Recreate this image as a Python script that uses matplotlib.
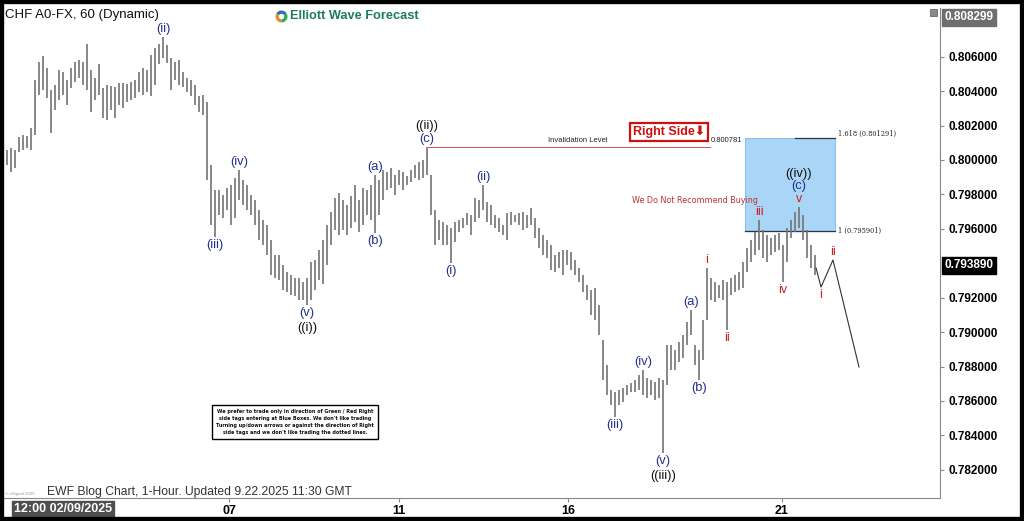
import matplotlib
matplotlib.use("Agg")
import matplotlib.pyplot as plt
from matplotlib.patches import Rectangle
import numpy as np

plt.rcParams['font.family'] = ['Liberation Sans', 'DejaVu Sans']

# hourly-ish bars, prices in 1e-5 units
highs = [80087, 80058, 80070, 80058, 80134, 80145, 80139, 80186, 80465, 80569,
         80604, 80535, 80407, 80436, 80523, 80511, 80465, 80535, 80569, 80581,
         80569, 80674, 80523, 80476, 80558, 80418, 80436, 80430, 80424, 80447,
         80447, 80442, 80453, 80465, 80511, 80535, 80523, 80610, 80651, 80674,
         80715, 80668, 80593, 80569, 80581, 80511, 80476, 80465, 80436, 80372,
         80378, 80337, 79971, 79826, 79826, 79797, 79837, 79855, 79895, 79942,
         79884, 79855, 79797, 79768, 79709, 79651, 79622, 79535, 79448, 79448,
         79390, 79349, 79332, 79314, 79314, 79291, 79314, 79407, 79419, 79477,
         79535, 79622, 79698, 79779, 79808, 79768, 79739, 79791, 79855, 79768,
         79837, 79826, 79855, 79913, 79884, 79942, 79930, 79954, 79913, 79942,
         79930, 79907, 79942, 79971, 79988, 80000, 80076, 79913, 79709, 79651,
         79640, 79622, 79605, 79640, 79651, 79663, 79692, 79680, 79779, 79768,
         79855, 79756, 79739, 79680, 79663, 79622, 79692, 79698, 79680, 79692,
         79698, 79680, 79721, 79663, 79605, 79564, 79535, 79506, 79448, 79465,
         79477, 79477, 79465, 79419, 79373, 79332, 79274, 79245, 79256, 79158,
         78954, 78809, 78664, 78652, 78664, 78675, 78693, 78704, 78722, 78751,
         78780, 78733, 78722, 78710, 78733, 78722, 78925, 78925, 78896, 78943,
         78983, 79059, 79128, 78925, 78896, 79070, 79373, 79314, 79291, 79274,
         79303, 79291, 79314, 79332, 79349, 79407, 79489, 79535, 79582, 79651,
         79593, 79564, 79547, 79564, 79576, 79506, 79605, 79651, 79698, 79727,
         79680, 79593, 79506, 79448]
lows = [80000, 79971, 79930, 79954, 80046, 80058, 80070, 80058, 80145, 80378,
        80407, 80360, 80157, 80291, 80349, 80378, 80320, 80418, 80453, 80476,
        80436, 80407, 80279, 80349, 80378, 80244, 80232, 80291, 80244, 80320,
        80302, 80337, 80349, 80360, 80395, 80378, 80395, 80372, 80436, 80558,
        80593, 80564, 80407, 80465, 80436, 80424, 80395, 80372, 80320, 80279,
        80261, 79884, 79622, 79553, 79680, 79663, 79709, 79622, 79663, 79768,
        79739, 79709, 79680, 79622, 79535, 79506, 79448, 79332, 79314, 79303,
        79245, 79233, 79216, 79210, 79187, 79187, 79158, 79187, 79245, 79303,
        79280, 79390, 79506, 79593, 79564, 79593, 79564, 79605, 79640, 79582,
        79622, 79680, 79651, 79576, 79680, 79768, 79826, 79837, 79797, 79855,
        79826, 79855, 79872, 79895, 79884, 79895, 79913, 79680, 79506, 79535,
        79506, 79506, 79402, 79524, 79582, 79605, 79622, 79564, 79640, 79663,
        79709, 79640, 79622, 79605, 79582, 79564, 79535, 79622, 79640, 79622,
        79593, 79605, 79622, 79547, 79489, 79448, 79431, 79361, 79349, 79373,
        79332, 79390, 79361, 79332, 79291, 79233, 79187, 79099, 79070, 78983,
        78722, 78635, 78577, 78507, 78577, 78594, 78635, 78652, 78652, 78664,
        78635, 78617, 78635, 78606, 78617, 78298, 78693, 78780, 78780, 78826,
        78850, 78925, 78983, 78809, 78722, 78838, 79070, 79187, 79175, 79198,
        79187, 79012, 79216, 79233, 79245, 79256, 79349, 79407, 79448, 79477,
        79431, 79407, 79448, 79465, 79477, 79291, 79407, 79547, 79582, 79605,
        79535, 79431, 79373, 79332]

# projected path after the last bar
proj_x = [203.25, 204.5, 207.5, 214.0]
proj_y = [0.79373, 0.79262, 0.79419, 0.78797]

# wave labels: text, bar, side, row, colour
NAVY = '#23308f'
RED = '#cc2020'
BLK = '#111111'
wave_labels = [
    ('(ii)', 40, 'hi', 0, NAVY),
    ('(iii)', 53, 'lo', 0, NAVY),
    ('(iv)', 59, 'hi', 0, NAVY),
    ('(v)', 76, 'lo', 0, NAVY), ('((i))', 76, 'lo', 1, BLK),
    ('(a)', 93, 'hi', 0, NAVY), ('(b)', 93, 'lo', 0, NAVY),
    ('(c)', 106, 'hi', 0, NAVY), ('((ii))', 106, 'hi', 1, BLK),
    ('(i)', 112, 'lo', 0, NAVY),
    ('(ii)', 120, 'hi', 0, NAVY),
    ('(iii)', 153, 'lo', 0, NAVY),
    ('(iv)', 160, 'hi', 0, NAVY),
    ('(v)', 165, 'lo', 0, NAVY), ('((iii))', 165, 'lo', 1, BLK),
    ('(a)', 172, 'hi', 0, NAVY),
    ('(b)', 174, 'lo', 0, NAVY),
    ('i', 176, 'hi', 0, RED),
    ('ii', 181, 'lo', 0, RED),
    ('iii', 189, 'hi', 0, RED),
    ('iv', 195, 'lo', 0, RED),
    ('v', 199, 'hi', 0, RED), ('(c)', 199, 'hi', 1, NAVY), ('((iv))', 199, 'hi', 2, BLK),
]

price_ticks = [0.782, 0.784, 0.786, 0.788, 0.790, 0.792, 0.796,
               0.798, 0.800, 0.802, 0.804, 0.806]
day_ticks = [56.5, 99.0, 141.25, 194.75]
day_labels = ['07', '11', '16', '21']

invalidation = 0.800781
box_lo, box_hi = 0.795901, 0.801291
last_price = 0.793890
top_price = 0.808299

W, H = 1024, 521
fig = plt.figure(figsize=(W / 100, H / 100), dpi=100)
fig.patch.set_facecolor('white')
ax = fig.add_axes([0, 23 / H, 940 / W, 490 / H])

hi = np.array(highs) / 1e5
lo = np.array(lows) / 1e5
idx = np.arange(len(hi))
ax.vlines(idx, lo, hi, color='#737373', lw=1.2, zorder=3)

ax.set_xlim(-0.75, 234.25)
ax.set_ylim(0.780362, 0.808831)

# blue box + fib lines
ax.add_patch(Rectangle((185.5, box_lo), 22.5, box_hi - box_lo, facecolor='#a9d5f7',
                       edgecolor='#8cc3ee', lw=0.8, zorder=1))
ax.plot([198, 208], [box_hi, box_hi], color='#333344', lw=0.9, zorder=2)
ax.plot([185.5, 208], [box_lo, box_lo], color='#333344', lw=0.9, zorder=2)
ax.text(208.8, box_hi, '1.618 (0.801291)', fontsize=4.8, family='DejaVu Serif',
        va='bottom', ha='left', color='#222')
ax.text(208.8, box_lo, '1 (0.795901)', fontsize=4.8, family='DejaVu Serif',
        va='center', ha='left', color='#222')

# invalidation level
ax.plot([106.25, 176.75], [invalidation, invalidation], color='#d05050', lw=0.7, zorder=2)
ax.text(143.75, invalidation + 0.00012, 'Invalidation Level', fontsize=5.5,
        ha='center', va='bottom', color='#222')
ax.text(177.0, invalidation + 0.00012, '0.800781', fontsize=5.5, ha='left',
        va='bottom', color='#222')

ax.text(166.5, 0.80163, 'Right Side\u2b07', fontsize=9, fontweight='bold', color='#d01010',
        ha='center', va='center', family=['Liberation Sans', 'DejaVu Sans'],
        bbox=dict(boxstyle='square,pad=0.25', fc='white', ec='#d01010', lw=1.6))
ax.text(173, 0.79762, 'We Do Not Recommend Buying', fontsize=5.8, color='#c03030',
        ha='center', va='center', family=['Liberation Sans Narrow', 'DejaVu Sans'])

# projection
ax.plot(proj_x, proj_y, color='#333333', lw=0.8, zorder=3)
ax.annotate('i', (proj_x[1], proj_y[1]), xytext=(0, -1.5), textcoords='offset points',
            ha='center', va='top', fontsize=9, color=RED)
ax.annotate('ii', (proj_x[2], proj_y[2]), xytext=(0, 1.5), textcoords='offset points',
            ha='center', va='bottom', fontsize=9, color=RED)

for txt, b, side, row, col in wave_labels:
    fs = 9 if col == RED else 9.3
    if side == 'hi':
        off = 1.5 + row * 9.0
        ax.annotate(txt, (b, hi[b]), xytext=(0, off), textcoords='offset points',
                    ha='center', va='bottom', fontsize=fs, color=col, zorder=5)
    else:
        off = -1.5 - row * 10.5
        ax.annotate(txt, (b, lo[b]), xytext=(0, off), textcoords='offset points',
                    ha='center', va='top', fontsize=fs, color=col, zorder=5)

# axes styling
for s in ['top', 'left']:
    ax.spines[s].set_visible(False)
for s in ['right', 'bottom']:
    ax.spines[s].set_color('#888888')
    ax.spines[s].set_linewidth(0.8)
ax.yaxis.tick_right()
ax.set_yticks(price_ticks)
ax.set_yticklabels(['%.6f' % p for p in price_ticks], fontsize=8.5, fontweight='bold')
ax.tick_params(axis='y', length=3, color='#888888', pad=3)
ax.set_xticks(day_ticks)
ax.set_xticklabels(day_labels, fontsize=9, fontweight='bold')
ax.tick_params(axis='x', length=3, color='#888888', pad=2)

# price flags on the right axis
ax.annotate('%.6f' % last_price, (1.0, last_price), xycoords=('axes fraction', 'data'),
            xytext=(3, 0), textcoords='offset points', ha='left', va='center',
            fontsize=8.5, fontweight='bold', color='white',
            bbox=dict(boxstyle='square,pad=0.2', fc='black', ec='black'))
ax.annotate('%.6f' % top_price, (1.0, top_price), xycoords=('axes fraction', 'data'),
            xytext=(3, 0), textcoords='offset points', ha='left', va='center',
            fontsize=8.5, fontweight='bold', color='white', annotation_clip=False,
            bbox=dict(boxstyle='square,pad=0.2', fc='#6e6e6e', ec='#6e6e6e'))

# header / footer texts
fig.text(5 / W, 1 - 15 / H, 'CHF A0-FX, 60 (Dynamic)', fontsize=9.5, ha='left',
         va='center', color='#111')
fig.text(290 / W, 1 - 16 / H, 'Elliott Wave Forecast', fontsize=9.2, fontweight='bold',
         ha='left', va='center', color='#1f7a63')
lax = fig.add_axes([274 / W, 1 - 24 / H, 15 / W, 15 / H])
lax.pie([1, 1, 1], colors=['#2a6fb8', '#e58b2b', '#3aa65a'], startangle=30,
        wedgeprops=dict(width=0.55))
lax.set_aspect('equal')
lax.axis('off')

fig.text(47 / W, 1 - 492 / H, 'EWF Blog Chart, 1-Hour. Updated 9.22.2025 11:30 GMT',
         fontsize=8.7, ha='left', va='center', color='#333')
fig.text(5 / W, 1 - 494 / H, '\u00a9 eSignal 2025', fontsize=3.2, ha='left',
         va='center', color='#999')
fig.text(14 / W, 1 - 509 / H, '12:00 02/09/2025', fontsize=9, fontweight='bold',
         ha='left', va='center', color='white',
         bbox=dict(boxstyle='square,pad=0.15', fc='#4f4f4f', ec='#4f4f4f'))

fig.text(295 / W, 1 - 422 / H,
         "We prefer to trade only in direction of Green / Red Right\n"
         "side tags entering at Blue Boxes. We don't like trading\n"
         "Turning up/down arrows or against the direction of Right\n"
         "side tags and we don't like trading the dotted lines.",
         fontsize=3.5, fontweight='bold', ha='center', va='center', linespacing=1.55,
         family=['Liberation Sans Narrow', 'DejaVu Sans'], color='#111',
         bbox=dict(boxstyle='square,pad=0.8', fc='white', ec='black', lw=1.0))

fig.patches.append(Rectangle((930 / W, 1 - 16 / H), 7 / W, 7 / H, transform=fig.transFigure,
                             facecolor='#888888', edgecolor='#555555', lw=0.5))
fig.patches.append(Rectangle((0, 0), 1, 1, transform=fig.transFigure, fill=False,
                             edgecolor='black', lw=6, zorder=10))

fig.savefig('out.png', dpi=100)
